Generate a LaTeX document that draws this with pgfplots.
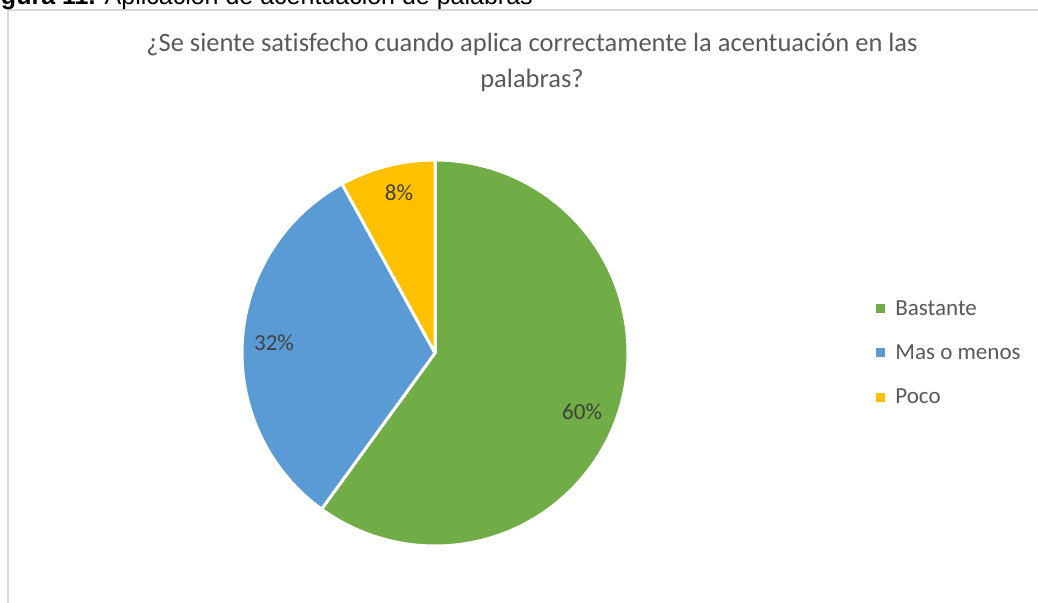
\documentclass[border=0pt]{standalone}
\usepackage{pgfplots}
\pgfplotsset{compat=1.18}
\usepackage{pgfplotstable}
\usepackage{fontspec}
\setmainfont[Ligatures=NoCommon]{Carlito}
\newfontfamily\arial{Liberation Sans}

\definecolor{verde}{HTML}{70AD47}
\definecolor{azul}{HTML}{5B9BD5}
\definecolor{amarillo}{HTML}{FFC000}
\definecolor{titulo}{HTML}{595959}
\definecolor{etiqueta}{HTML}{404040}
\definecolor{marco}{HTML}{D9D9D9}

% porcentajes del grafico
\pgfplotstableread{
label value
Bastante 60
{Mas o menos} 32
Poco 8
}\datos

\begin{document}
\begin{tikzpicture}[x=1pt,y=1pt]
\useasboundingbox (0,0) rectangle (1038,602);
\clip (0,0) rectangle (1038,602);

% marco del grafico y pie de figura recortado
\draw[marco, line width=1.5pt] (8,-20) -- (8,592) -- (1060,592);
\node[anchor=base east, inner sep=0pt, font=\arial\fontsize{25}{30}\selectfont]
  at (533,597) {\textbf{Figura 11.} Aplicación de acentuación de palabras};

% titulo (anchor base = linea de base de la ultima linea)
\node[align=center, text=titulo, font=\fontsize{26.5}{36}\selectfont, inner sep=0pt, anchor=base]
  at (532,514) {¿Se siente satisfecho cuando aplica correctamente la acentuación en las\\palabras?};

\pgfplotstablegetelem{0}{value}\of\datos \let\va\pgfplotsretval
\pgfplotstablegetelem{1}{value}\of\datos \let\vb\pgfplotsretval
\pgfplotstablegetelem{2}{value}\of\datos \let\vc\pgfplotsretval
\pgfmathsetmacro\aA{90}
\pgfmathsetmacro\aB{\aA-3.6*\va}
\pgfmathsetmacro\aC{\aB-3.6*\vb}
\pgfmathsetmacro\aD{\aC-3.6*\vc}

\begin{axis}[
    at={(435pt,249pt)}, anchor=center,
    scale only axis, width=386pt, height=386pt,
    xmin=-1, xmax=1, ymin=-1, ymax=1,
    hide axis, clip=false,
    legend image code/.code={\fill[#1, draw=none] (0pt,-4.5pt) rectangle (9pt,4.5pt); \path (0pt,0pt) (17pt,0pt);},
    legend style={at={(1.642,0.5)}, anchor=west, draw=none, fill=none,
        font=\fontsize{23}{27}\selectfont, text=titulo, row sep=24pt,
        inner sep=0pt, cells={anchor=west}},
]
\addlegendimage{fill=verde}\addlegendentry{Bastante}
\addlegendimage{fill=azul}\addlegendentry{Mas o menos}
\addlegendimage{fill=amarillo}\addlegendentry{Poco}

\filldraw[fill=verde, draw=white, line width=3pt, line join=round]
  (axis cs:0,0) -- ([shift={(\aA:193pt)}]axis cs:0,0)
  arc[start angle=\aA, end angle=\aB, radius=193pt] -- cycle;
\filldraw[fill=azul, draw=white, line width=3pt, line join=round]
  (axis cs:0,0) -- ([shift={(\aB:193pt)}]axis cs:0,0)
  arc[start angle=\aB, end angle=\aC, radius=193pt] -- cycle;
\filldraw[fill=amarillo, draw=white, line width=3pt, line join=round]
  (axis cs:0,0) -- ([shift={(\aC:193pt)}]axis cs:0,0)
  arc[start angle=\aC, end angle=\aD, radius=193pt] -- cycle;

\node[text=etiqueta, font=\fontsize{23}{27}\selectfont] at (axis cs:0.762,-0.306) {60\%};
\node[text=etiqueta, font=\fontsize{23}{27}\selectfont] at (axis cs:-0.834,0.052) {32\%};
\node[text=etiqueta, font=\fontsize{23}{27}\selectfont] at (axis cs:-0.187,0.829) {8\%};
\end{axis}
\end{tikzpicture}
\end{document}
